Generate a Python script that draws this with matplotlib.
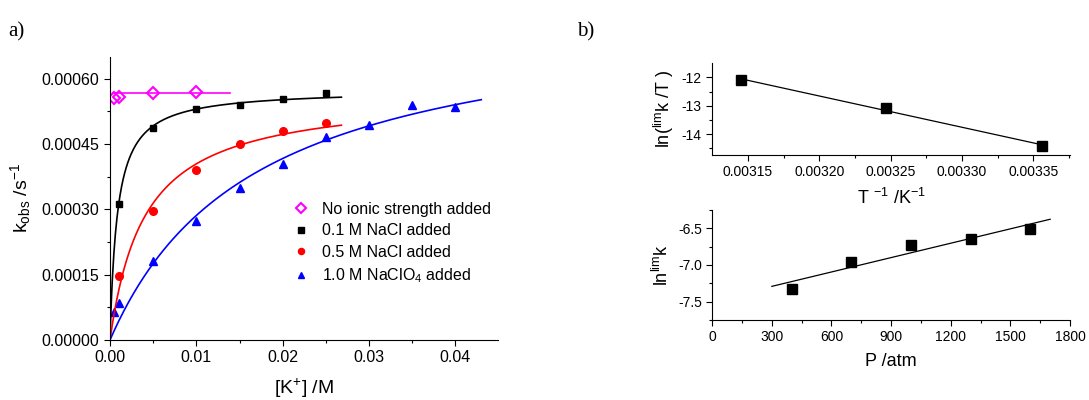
import numpy as np
import matplotlib
matplotlib.use("Agg")
import matplotlib.pyplot as plt

plt.rcParams["font.family"] = ["Liberation Sans", "DejaVu Sans"]
plt.rcParams["mathtext.fontset"] = "custom"
plt.rcParams["mathtext.rm"] = "Liberation Sans"
plt.rcParams["mathtext.it"] = "Liberation Sans"
plt.rcParams["axes.unicode_minus"] = False

# ----------------------------------------
# data: panel a (k_obs vs [K+])
# ----------------------------------------
x_none = [0.0005, 0.001, 0.005, 0.01]
y_none = [0.000555, 0.000557, 0.000568, 0.000570]
none_level = 0.000566          # flat fit
none_range = [0.0003, 0.0139]

x_01 = [0.001, 0.005, 0.01, 0.015, 0.02, 0.025]
y_01 = [0.000312, 0.000486, 0.000531, 0.000539, 0.000554, 0.000566]
fit_01 = (0.000575, 0.00085, 0.0268)     # kmax, K, x end

x_05 = [0.001, 0.005, 0.01, 0.015, 0.02, 0.025]
y_05 = [0.000146, 0.000297, 0.000391, 0.000450, 0.000479, 0.000498]
fit_05 = (0.000567, 0.004025, 0.0268)

x_10 = [0.0005, 0.001, 0.005, 0.01, 0.015, 0.02, 0.025, 0.03, 0.035, 0.04]
y_10 = [0.0000648, 0.0000839, 0.000181, 0.000274, 0.000349, 0.000403,
        0.000465, 0.000494, 0.000540, 0.000534]
fit_10 = (0.000768, 0.01687, 0.043)

# ----------------------------------------
# data: panel b
# ----------------------------------------
inv_T = [0.003145, 0.003247, 0.003356]
ln_kT = [-12.09, -13.09, -14.41]

P_atm = [400, 700, 1000, 1300, 1600]
ln_k = [-7.327, -6.963, -6.727, -6.646, -6.505]
P_fit_range = [300, 1700]

fig = plt.figure(figsize=(10.89, 4.0), dpi=100)


def style_axes(ax, size):
    for s in ["top", "right"]:
        ax.spines[s].set_visible(False)
    ax.tick_params(which="major", direction="out", length=4, width=0.8,
                   labelsize=size)
    ax.tick_params(which="minor", direction="out", length=2.5, width=0.8)


def hyper(x, kmax, K):
    return kmax * x / (K + x)


# ----------------------------------------
# panel a
# ----------------------------------------
ax = fig.add_axes([0.101, 0.15, 0.356, 0.708])

ax.plot(x_none, y_none, "D", ms=6, mfc="none", mec="#FF00FF", mew=1.5,
        label="No ionic strength added")
ax.plot(x_01, y_01, "s", ms=5, color="black", label="0.1 M NaCl added")
ax.plot(x_05, y_05, "o", ms=5.5, color="#FF0000", label="0.5 M NaCl added")
ax.plot(x_10, y_10, "^", ms=6, color="#0000FF",
        label=r"1.0 M NaClO$_4$ added")

ax.plot(none_range, [none_level, none_level], color="#FF00FF", lw=1.2)
for (kmax, K, xend), c in [(fit_01, "black"), (fit_05, "#FF0000"),
                           (fit_10, "#0000FF")]:
    xx = np.linspace(0, xend, 300)
    ax.plot(xx, hyper(xx, kmax, K), color=c, lw=1.2)

ax.set_xlim(0, 0.0449)
ax.set_ylim(0, 0.00065)
ax.set_xticks([0.0, 0.01, 0.02, 0.03, 0.04])
ax.set_xticklabels(["0.00", "0.01", "0.02", "0.03", "0.04"])
ax.set_xticks([0.005, 0.015, 0.025, 0.035], minor=True)
yt = [0.0, 0.00015, 0.0003, 0.00045, 0.0006]
ax.set_yticks(yt)
ax.set_yticklabels(["%.5f" % v for v in yt])
ax.set_yticks([0.000075, 0.000225, 0.000375, 0.000525], minor=True)
style_axes(ax, 11.5)

ax.set_xlabel(r"[K$^{+}$] /M", fontsize=14, labelpad=8)
ax.set_ylabel(r"k$_{\mathrm{obs}}$ /s$^{-1}$", fontsize=14, labelpad=6)

ax.legend(loc="upper left", bbox_to_anchor=(0.455, 0.51), frameon=False,
          fontsize=11.5, handlelength=1.0, handletextpad=0.8,
          labelspacing=0.4, borderaxespad=0, markerscale=0.8)

fig.text(0.008, 0.91, "a)", family="Liberation Serif", fontsize=15)
fig.text(0.53, 0.91, "b)", family="Liberation Serif", fontsize=15)

# ----------------------------------------
# panel b top
# ----------------------------------------
bt = fig.add_axes([0.654, 0.6125, 0.329, 0.2295])
bt.plot(inv_T, ln_kT, "s", ms=6.5, color="black")
m, c0 = np.polyfit(inv_T, ln_kT, 1)
xx = np.array([inv_T[0], inv_T[-1]])
bt.plot(xx, m * xx + c0, color="black", lw=0.9)
bt.set_xlim(0.003125, 0.003376)
bt.set_ylim(-14.73, -11.5)
xt = [0.00315, 0.0032, 0.00325, 0.0033, 0.00335]
bt.set_xticks(xt)
bt.set_xticklabels(["%.5f" % v for v in xt])
bt.set_xticks([0.003175, 0.003225, 0.003275, 0.003325, 0.003375], minor=True)
bt.set_yticks([-12, -13, -14])
bt.set_yticks([-12.5, -13.5, -14.5], minor=True)
style_axes(bt, 10)
bt.set_xlabel(r"T $^{-1}$ /K$^{-1}$", fontsize=13, labelpad=6)
bt.set_ylabel(r"ln($^{\mathrm{lim}}$k /T )", fontsize=13, labelpad=4)

# ----------------------------------------
# panel b bottom
# ----------------------------------------
bb = fig.add_axes([0.654, 0.2, 0.3286, 0.275])
bb.plot(P_atm, ln_k, "s", ms=6.5, color="black")
m2, c2 = np.polyfit(P_atm, ln_k, 1)
pp = np.array(P_fit_range)
bb.plot(pp, m2 * pp + c2, color="black", lw=0.9)
bb.set_xlim(0, 1800)
bb.set_ylim(-7.75, -6.25)
bb.set_xticks([0, 300, 600, 900, 1200, 1500, 1800])
bb.set_xticks([150, 450, 750, 1050, 1350, 1650], minor=True)
bb.set_yticks([-6.5, -7.0, -7.5])
bb.set_yticklabels(["-6.5", "-7.0", "-7.5"])
bb.set_yticks([-6.25, -6.75, -7.25, -7.75], minor=True)
style_axes(bb, 10)
bb.set_xlabel("P /atm", fontsize=13, labelpad=6)
bb.set_ylabel(r"ln$^{\mathrm{lim}}$k", fontsize=13, labelpad=4)

plt.savefig("out.png", dpi=100)
